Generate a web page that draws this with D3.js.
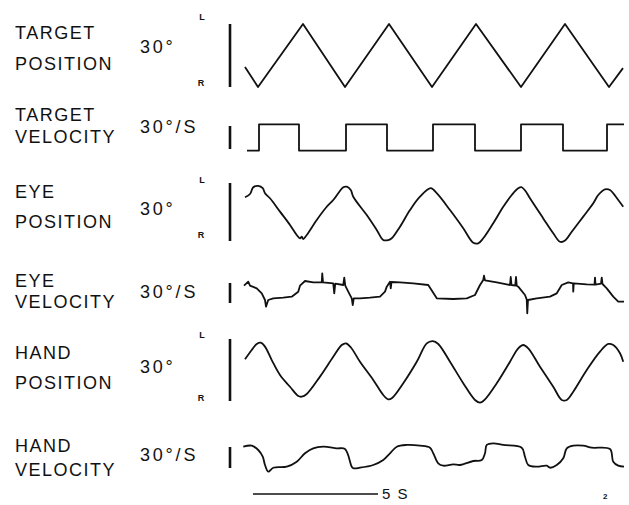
<!DOCTYPE html>
<html><head><meta charset="utf-8">
<script src="https://cdn.jsdelivr.net/npm/d3@7"></script>
<style>
html,body{margin:0;padding:0;background:#fff;}
svg{display:block;}
text{font-family:"Liberation Sans",Arial,Helvetica,sans-serif;fill:#111;}
</style></head>
<body>
<script>
// ---- data (time in s, position in deg, velocity in deg/s) ----
const rowLabels = [["TARGET","POSITION"],["TARGET","VELOCITY"],["EYE","POSITION"],["EYE","VELOCITY"],["HAND","POSITION"],["HAND","VELOCITY"]];
const scaleLabels = ["30°","30°/S","30°","30°/S","30°","30°/S"];
const timeBarSeconds = 5;
const timeBarLabel = "5 S";
const figNumber = "2";

const targetPosT = [0,0.52,2.32,4.0,5.76,7.48,9.24,11.04,12.8,14.56,15.12];
const targetPosV = [-5.5,-15,15,-15,15,-15,15,-15,15,-15,-6];

const targetVelT = [0.08,0.56,2.16,4.04,5.68,7.52,9.2,11.04,12.72,14.48,15.16];
const targetVelV = [-17,17,-17,17,-17,17,-17,17,-17,17,17];

const eyePosT = [0,0.2,0.33,0.53,0.71,0.8,1.0,1.4,1.8,2.07,2.2,2.27,2.33,2.47,2.87,3.27,3.53,3.73,3.93,4.07,4.23,4.33,4.87,5.27,5.53,5.73,5.87,6.2,6.6,7.0,7.43,7.67,8.2,8.73,9.13,9.33,9.53,9.93,10.33,10.67,10.93,11.07,11.24,11.4,11.93,12.33,12.6,12.8,13.07,13.53,13.93,14.13,14.4,14.6,14.93,15.13];
const eyePosV = [7.6,9.3,12.8,13.5,12.3,9.7,7.1,0.2,-6.7,-11.9,-13.6,-12.8,-14.0,-11.9,-4.1,2.7,6.2,9.7,12.8,13.1,11.4,7.9,-1.6,-9.3,-14.5,-14.5,-13.6,-7.6,1.0,7.9,12.3,9.7,1.0,-8.4,-15.9,-16.2,-13.6,-5.8,2.7,8.8,12.3,12.8,10.5,7.1,-3.3,-11.0,-15.4,-14.8,-10.2,-2.4,4.5,8.8,11.7,11.4,6.2,2.7];

const eyeVelT = [-0.04,0.13,0.2,0.47,0.67,0.8,0.84,0.93,1.13,1.53,1.87,2.13,2.2,2.4,2.73,3.07,3.09,3.12,3.53,3.57,3.61,3.93,3.97,4.01,4.13,4.27,4.31,4.35,4.6,5.0,5.4,5.6,5.67,5.8,5.83,5.86,6.2,6.73,7.33,7.67,8.33,8.87,9.2,9.4,9.53,9.56,9.6,10.07,10.47,10.6,10.63,10.66,10.81,10.84,10.87,10.93,11.2,11.27,11.29,11.32,11.67,12.2,12.47,12.67,12.93,13.12,13.13,13.15,13.67,13.98,14.0,14.02,14.24,14.27,14.3,14.47,14.73,14.93,15.16];
const eyeVelV = [11,17,11,7,-0.5,-10.5,-20.5,-10.5,-8,-7,-5.5,2,11,18,16,16,29.5,16,14.5,-0.5,14,12,23,11,2,-8,-18,-8,-8,-7,-5.5,2,9.5,17,7,16.5,16,14.5,12,-8,-9,-8,-3,12,19.5,26,19,16,13,12,24,12,11,24,11,9.5,-3,-10,-30.5,-10.5,-8,-5.5,-0.5,12,16,14.5,2,14.5,13,12.5,23,12.5,14,23,13.5,7,-5.5,-13,-13];

const handPosT = [0,0.27,0.47,0.63,0.8,1.07,1.4,1.8,2.13,2.27,2.47,3.0,3.53,3.87,4.04,4.23,4.6,5.13,5.53,5.73,5.87,6.33,6.87,7.27,7.51,7.73,8.2,8.73,9.2,9.4,9.6,10.07,10.6,10.93,11.13,11.33,11.8,12.33,12.67,12.87,13.13,13.67,14.2,14.53,14.73,15.0,15.13];
const handPosV = [5.2,9.7,12.6,13.2,11.3,4.8,-2.4,-8.1,-12.6,-12.9,-11.6,-3.2,6.4,12.1,12.9,11.0,4.0,-4.8,-12.1,-14.2,-13.7,-6.4,4.0,12.9,14.0,12.6,4.0,-6.4,-14.5,-15.8,-14.2,-6.4,4.0,10.5,12.1,10.5,1.6,-8.1,-14.5,-14.5,-10.5,0,8.9,12.6,12.1,8.1,4.0];

const handVelT = [-0.07,0.27,0.53,0.71,0.8,0.93,1.13,1.67,2.07,2.4,2.73,3.13,3.67,4.0,4.27,4.33,4.6,5.13,5.53,5.8,6.07,6.47,7.0,7.4,7.53,7.73,7.93,8.33,8.6,9.13,9.47,9.6,9.67,9.93,10.33,11.07,11.2,11.33,11.67,12.07,12.2,12.47,12.73,12.87,13.13,13.53,13.87,14.6,14.73,14.93,15.16];
const handVelV = [15.4,16.9,10.7,1.1,-10.7,-20.3,-14.6,-13.1,-6,6,13.1,15.4,13.1,12.1,-13.1,-15.4,-14.6,-10.7,-3.6,6,15.4,17.9,16.9,14,6,-8.3,-11.7,-9.7,-10.7,-5,-3.6,6,17.9,20.3,17.9,14,1.1,-10.7,-13.1,-11.7,-14.6,-10.7,-1.1,13.1,16.9,16.9,14,12.1,-6,-11.7,-13.1];

// ---- layout ----
const W = 629, H = 505;
const svg = d3.select("body").append("svg").attr("width", W).attr("height", H);

const x = d3.scaleLinear().domain([0, 15.12]).range([245, 623]);

const smooth = d3.curveCatmullRom.alpha(0.5);
const panels = [
  {t: targetPosT, v: targetPosV, top: 24, bot: 87, curve: d3.curveLinear, lr: [20, 86], lab: [39, 70], sc: 53},
  {t: targetVelT, v: targetVelV, top: 126, bot: 149, curve: d3.curveStepAfter, lr: null, lab: [121, 143], sc: 133},
  {t: eyePosT, v: eyePosV, top: 183, bot: 241, curve: smooth, lr: [183, 238], lab: [198, 228], sc: 215},
  {t: eyeVelT, v: eyeVelV, top: 283, bot: 303, curve: d3.curveLinear, lr: null, lab: [287, 308], sc: 298},
  {t: handPosT, v: handPosV, top: 339, bot: 401, curve: smooth, lr: [338, 401], lab: [359, 389], sc: 373},
  {t: handVelT, v: handVelV, top: 447, bot: 468, curve: smooth, lr: null, lab: [452, 476], sc: 461}
];

panels.forEach((p, i) => {
  const y = d3.scaleLinear().domain([-15, 15]).range([p.bot, p.top]);
  const g = svg.append("g");
  g.append("text").attr("x", 15).attr("y", p.lab[0]).attr("font-size", 18).attr("letter-spacing", 1.5).text(rowLabels[i][0]);
  g.append("text").attr("x", 15).attr("y", p.lab[1]).attr("font-size", 18).attr("letter-spacing", 1.5).text(rowLabels[i][1]);
  g.append("text").attr("x", 140).attr("y", p.sc).attr("font-size", 18).attr("letter-spacing", 2.8).text(scaleLabels[i]);
  if (p.lr) {
    g.append("text").attr("x", 202).attr("y", p.lr[0]).attr("font-size", 9).attr("font-weight", "bold").attr("text-anchor", "middle").text("L");
    g.append("text").attr("x", 201).attr("y", p.lr[1]).attr("font-size", 9).attr("font-weight", "bold").attr("text-anchor", "middle").text("R");
  }
  g.append("line").attr("x1", 230).attr("x2", 230).attr("y1", y(-15)).attr("y2", y(15))
    .attr("stroke", "#111").attr("stroke-width", 2.6);
  const pts = p.t.map((t, k) => [t, p.v[k]]);
  const line = d3.line().x(d => x(d[0])).y(d => y(d[1])).curve(p.curve);
  g.append("path").attr("d", line(pts)).attr("fill", "none")
    .attr("stroke", "#111").attr("stroke-width", 1.8).attr("stroke-linejoin", "round");
});

svg.append("line").attr("x1", x(0.32)).attr("x2", x(0.32 + timeBarSeconds)).attr("y1", 494).attr("y2", 494)
  .attr("stroke", "#111").attr("stroke-width", 1.5);
svg.append("text").attr("x", x(0.32 + timeBarSeconds) + 4).attr("y", 499).attr("font-size", 15).attr("letter-spacing", 1.5).text(timeBarLabel);
svg.append("text").attr("x", 603).attr("y", 499).attr("font-size", 8).attr("font-weight", "bold").text(figNumber);
</script>
</body></html>
